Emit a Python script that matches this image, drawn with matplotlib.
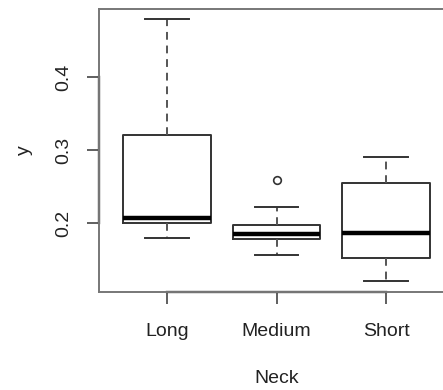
import matplotlib
matplotlib.use("Agg")
import matplotlib.pyplot as plt
from matplotlib.transforms import blended_transform_factory

plt.rcParams["font.family"] = ["Liberation Sans", "DejaVu Sans"]

# Box statistics (y values)
categories = ["Long", "Medium", "Short"]
whisker_lo = [0.179, 0.156, 0.121]
q1 = [0.200, 0.178, 0.152]
median = [0.207, 0.185, 0.186]
q3 = [0.320, 0.197, 0.255]
whisker_hi = [0.479, 0.222, 0.290]
outliers = [[], [0.259], []]

yticks = [0.2, 0.3, 0.4]
ytick_labels = ["0.2", "0.3", "0.4"]

LINE = "#333333"
FRAME = "#777777"
TEXT = "#222222"
FS = 14

stats = []
for i, name in enumerate(categories):
    stats.append({
        "label": name,
        "whislo": whisker_lo[i],
        "q1": q1[i],
        "med": median[i],
        "q3": q3[i],
        "whishi": whisker_hi[i],
        "fliers": outliers[i],
    })

fig = plt.figure(figsize=(4.43, 3.90), dpi=100)
ax = fig.add_axes([99 / 443, 1 - 292 / 390, 355 / 443, 283 / 390])

positions = list(range(1, len(categories) + 1))
ax.bxp(stats, positions=positions, widths=0.8, showfliers=True,
       boxprops=dict(color=LINE, linewidth=1.4),
       whiskerprops=dict(color="#555555", linewidth=1.4, linestyle=(0, (4, 3))),
       capprops=dict(color=LINE, linewidth=1.4),
       medianprops=dict(color="black", linewidth=3.2),
       flierprops=dict(marker="o", markersize=5.5, markerfacecolor="none",
                       markeredgecolor=LINE, markeredgewidth=1.2))

ax.set_xlim(0.38, 3.62)
ax.set_ylim(0.1055, 0.493)

ax.set_yticks(yticks)
ax.set_yticklabels(ytick_labels, rotation=90, va="center")
ax.set_xticks(positions)
ax.set_xticklabels(categories)

ax.tick_params(axis="both", direction="out", length=8.6, width=1.2,
               color="#444444", labelsize=FS, labelcolor=TEXT)
ax.tick_params(axis="x", pad=14)
ax.tick_params(axis="y", pad=11)

for sp in ax.spines.values():
    sp.set_color(FRAME)
    sp.set_linewidth(1.4)

# R-style axis lines spanning the tick range
tl = blended_transform_factory(ax.transAxes, ax.transData)
ax.plot([0, 0], [yticks[0], yticks[-1]], color="#444444", lw=1.7,
        transform=tl, clip_on=False)
tb = blended_transform_factory(ax.transData, ax.transAxes)
ax.plot([positions[0], positions[-1]], [0, 0], color="#444444", lw=1.7,
        transform=tb, clip_on=False)

ax.set_xlabel("Neck", fontsize=FS, color=TEXT, labelpad=21)
ax.set_ylabel("y", fontsize=FS, color=TEXT, labelpad=16)

fig.savefig("out.png", dpi=100)
